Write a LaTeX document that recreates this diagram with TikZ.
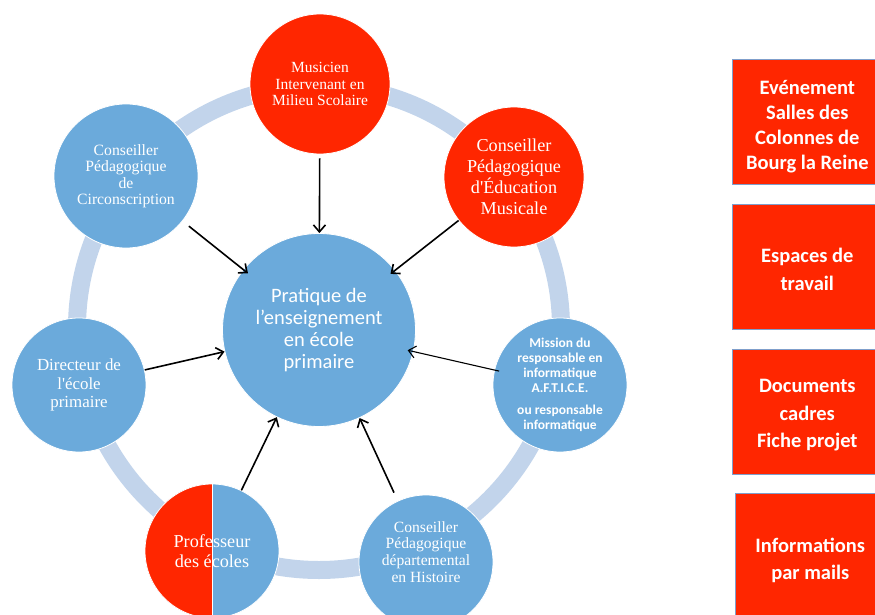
\documentclass[tikz,border=0pt]{standalone}
\usepackage{fontspec}
\setmainfont{Liberation Serif}[Ligatures=TeXOff]
\newfontfamily\cali{Carlito}
\usetikzlibrary{arrows.meta}
\definecolor{rouge}{HTML}{FF2600}
\definecolor{bleu}{HTML}{6BAADB}
\definecolor{anneau}{HTML}{C2D4EB}
\definecolor{bord}{HTML}{7F9ECB}
\tikzset{
  rond/.style={circle, inner sep=0pt, draw=white, line width=0.8pt, fill=bleu, text=white, align=center},
  carre/.style={rectangle, anchor=north west, minimum width=150pt, minimum height=125pt, fill=rouge, draw=bord, line width=0.6pt},
  carretexte/.style={text=white, align=center, font=\cali\bfseries\fontsize{20.5}{27.5}\selectfont},
  fleche/.style={-{Straight Barb[length=7pt,width=12pt]}, line width=1.6pt},
}
\begin{document}
\begin{tikzpicture}[x=1pt,y=-1pt]
  \useasboundingbox (0,0) rectangle (875,615);
  \clip (0,0) rectangle (875,615);
  % ring behind the circles
  \coordinate (hub) at (319,328);
  \draw[anneau, line width=18pt] (hub) circle[radius=242pt];

  % the circles
  \node[rond, minimum size=193pt, font=\cali\fontsize{20.5}{22}\selectfont] (pratique) at (319,330) {Pratique de\\l’enseignement\\en école\\primaire};
  \node[rond, fill=rouge, minimum size=140pt, font=\fontsize{15.5}{16.5}\selectfont] (musicien) at (320,84) {Musicien\\Intervenant en\\Milieu Scolaire};
  \node[rond, minimum size=144pt, font=\fontsize{15.7}{16.5}\selectfont] (circonscription) at (126,176) {Conseiller\\Pédagogique\\de\\Circonscription};
  \node[rond, fill=rouge, minimum size=140pt, font=\fontsize{18.2}{21}\selectfont] (education) at (514,177) {Conseiller\\Pédagogique\\d'Éducation\\Musicale};
  \node[rond, minimum size=134pt, font=\fontsize{16.9}{18.5}\selectfont] (directeur) at (79,385) {Directeur de\\l'école\\primaire};
  \node[rond, minimum size=134pt, inner sep=-6pt, font=\cali\bfseries\fontsize{13.5}{15}\selectfont] (mission) at (560,385) {Mission du\\responsable en\\informatique\\A.F.T.I.C.E.\\[7pt]ou responsable\\informatique};
  \node[rond, minimum size=134pt, font=\fontsize{18.2}{20}\selectfont,
    path picture={\fill[rouge] (path picture bounding box.south west) rectangle (path picture bounding box.north);
      \draw[white, line width=1pt] (path picture bounding box.north) -- (path picture bounding box.south);}] (professeur) at (212,551) {Professeur\\des écoles};
  \node[rond, minimum size=134pt] (departemental) at (426,562) {};
  \node[text=white, align=center, font=\fontsize{15.6}{16.7}\selectfont] (deptexte) at (426,552) {Conseiller\\Pédagogique\\départemental\\en Histoire};

  % arrows to the centre
  \draw[fleche, shorten <=4pt] (musicien) -- (pratique);
  \draw[fleche, shorten <=8pt, shorten >=-6pt] (circonscription) -- (pratique);
  \draw[fleche, shorten >=-6pt] (education) -- (pratique);
  \draw[fleche] (directeur) -- (pratique);
  \draw[fleche, line width=1.1pt, shorten <=-5pt, shorten >=-6pt] (mission) -- (pratique);
  \draw[fleche] (professeur) -- (pratique);
  \draw[fleche, shorten <=9pt] (departemental) -- (pratique);

  % boxes on the right
  \node[carre, label={[carretexte, font=\cali\bfseries\fontsize{20.5}{25}\selectfont, yshift=-5pt]center:{Evénement\\Salles des\\Colonnes de\\Bourg la Reine}}] (evenement) at (732,59) {};
  \node[carre, label={[carretexte, yshift=-2.5pt]center:{Espaces de\\travail}}] (espaces) at (732,204) {};
  \node[carre, label={[carretexte, yshift=-3.5pt]center:{Documents\\cadres\\Fiche projet}}] (documents) at (732,349) {};
  \node[carre, label={[carretexte, yshift=-4.5pt]center:{Informations\\par mails}}] (informations) at (735,493) {};
\end{tikzpicture}
\end{document}
